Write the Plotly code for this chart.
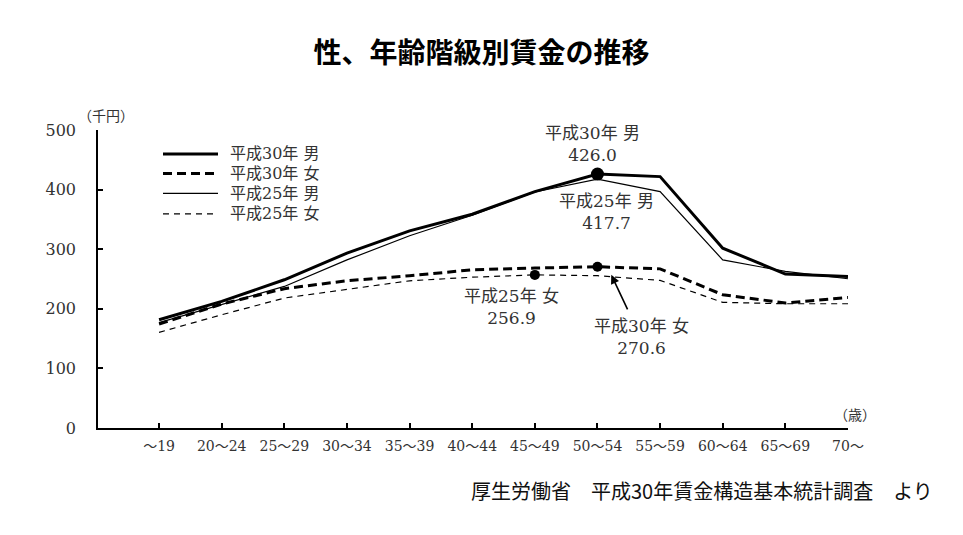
import plotly.graph_objects as go

# ---- data ----
age_labels = ["～19", "20～24", "25～29", "30～34", "35～39", "40～44",
              "45～49", "50～54", "55～59", "60～64", "65～69", "70～"]
h30_male = [181.7, 212.4, 248.7, 293.4, 330.8, 358.7, 396.6, 426.0, 421.8, 301.8, 258.3, 254.3]
h30_female = [174.5, 208.0, 233.7, 247.0, 255.4, 265.5, 268.3, 270.6, 267.0, 223.6, 209.7, 219.0]
h25_male = [176.7, 207.0, 237.5, 282.0, 322.5, 357.0, 396.0, 417.7, 396.6, 282.0, 262.7, 250.4]
h25_female = [160.5, 190.0, 218.0, 233.0, 247.0, 253.0, 256.9, 255.5, 247.6, 210.8, 208.5, 208.5]
y_ticks = [0, 100, 200, 300, 400, 500]

series_names = ["平成30年 男", "平成30年 女", "平成25年 男", "平成25年 女"]

FONT = "DejaVu Serif, Noto Sans CJK JP, sans-serif"
TXT = "#333333"
x = list(range(len(age_labels)))

# page-pixel helpers (the page has an 8px body margin; plot area is placed at 98..848 x 130..428.5)
PX0, PX1, PY0, PY1 = 98, 848, 130, 428.5
def px(v):
    return (v - PX0) / (PX1 - PX0)
def py(v):
    return (PY1 - v) / (PY1 - PY0)

fig = go.Figure()
styles = [
    (h30_male, dict(color="black", width=3)),
    (h30_female, dict(color="black", width=3, dash="9px,5px")),
    (h25_male, dict(color="black", width=1.2)),
    (h25_female, dict(color="black", width=1.2, dash="6px,5px")),
]
for name, (vals, ln) in zip(series_names, styles):
    fig.add_trace(go.Scatter(x=x, y=vals, mode="lines", name=name, line=ln,
                             hoverinfo="x+y", showlegend=False))

# highlighted points
i_peak = age_labels.index("50～54")
i_f25 = age_labels.index("45～49")
fig.add_trace(go.Scatter(x=[x[i_peak]], y=[h30_male[i_peak]], mode="markers",
                         marker=dict(color="black", size=13), showlegend=False))
fig.add_trace(go.Scatter(x=[x[i_peak], x[i_f25]], y=[h30_female[i_peak], h25_female[i_f25]],
                         mode="markers", marker=dict(color="black", size=10), showlegend=False))

ann_font = dict(family=FONT, size=17, color=TXT)
annotations = [
    dict(x=6.92, y=476.5, text=f"{series_names[0]}<br>{h30_male[i_peak]:.1f}"),
    dict(x=7.14, y=361.8, text=f"{series_names[2]}<br>{h25_male[i_peak]:.1f}"),
    dict(x=5.62, y=203.5, text=f"{series_names[3]}<br>{h25_female[i_f25]:.1f}"),
    dict(x=7.70, y=153.3, text=f"{series_names[1]}<br>{h30_female[i_peak]:.1f}"),
]
for a in annotations:
    a.update(xref="x", yref="y", showarrow=False, font=ann_font,
             xanchor="center", yanchor="middle", align="center")
# arrow
annotations.append(dict(x=7.22, y=257, xref="x", yref="y", ax=17, ay=36, text="",
                        showarrow=True, arrowhead=2, arrowsize=1.1, arrowwidth=1.6,
                        arrowcolor="black"))
# units
annotations.append(dict(x=px(106), y=py(116), xref="paper", yref="paper", text="（千円）",
                        showarrow=False, xanchor="center", yanchor="middle",
                        font=dict(family=FONT, size=14, color=TXT)))
annotations.append(dict(x=px(855), y=py(415), xref="paper", yref="paper", text="（歳）",
                        showarrow=False, xanchor="center", yanchor="middle",
                        font=dict(family=FONT, size=14, color=TXT)))
# source
annotations.append(dict(x=px(935), y=py(491), xref="paper", yref="paper",
                        text="厚生労働省　平成30年賃金構造基本統計調査　より",
                        showarrow=False, xanchor="right", yanchor="middle",
                        font=dict(family="Noto Sans CJK JP", size=20, color="#111111")))

# legend (drawn as key lines + labels)
shapes = []
leg_rows = [154, 173.5, 193.5, 214]
for (name, (vals, ln)), ry in zip(zip(series_names, styles), leg_rows):
    shapes.append(dict(type="line", xref="paper", yref="paper", x0=px(163), x1=px(218),
                       y0=py(ry), y1=py(ry), line=ln))
    annotations.append(dict(x=px(228), y=py(ry), xref="paper", yref="paper", text=name,
                            showarrow=False, xanchor="left", yanchor="middle",
                            font=dict(family=FONT, size=16, color=TXT)))

fig.update_layout(
    width=963, height=535,
    margin=dict(l=90, r=123, t=122, b=114.5),
    paper_bgcolor="white", plot_bgcolor="white",
    title=dict(text="<b>性、年齢階級別賃金の推移</b>", x=0.5 - 8 / 963, xref="container",
               xanchor="center", y=1 - 45 / 535, yanchor="middle",
               font=dict(family="Noto Sans CJK JP", size=28, color="black")),
    showlegend=False,
    annotations=annotations,
    shapes=shapes,
)
fig.update_xaxes(range=[-0.975, 11], tickmode="array", tickvals=x, ticktext=age_labels,
                 showline=True, linecolor="black", linewidth=1.5, ticks="inside", ticklen=5,
                 tickcolor="black", tickwidth=1.5, showgrid=False, zeroline=False,
                 ticklabelstandoff=4, automargin=False,
                 tickfont=dict(family=FONT, size=14, color=TXT), fixedrange=True)
fig.update_yaxes(range=[0, 500], tickvals=y_ticks, showline=True, linecolor="black",
                 linewidth=1.5, ticks="inside", ticklen=5, tickcolor="black", tickwidth=1.5,
                 showgrid=False, zeroline=False, ticklabelstandoff=17, automargin=False,
                 tickfont=dict(family=FONT, size=16, color=TXT), fixedrange=True)

fig.write_html("out.html")
